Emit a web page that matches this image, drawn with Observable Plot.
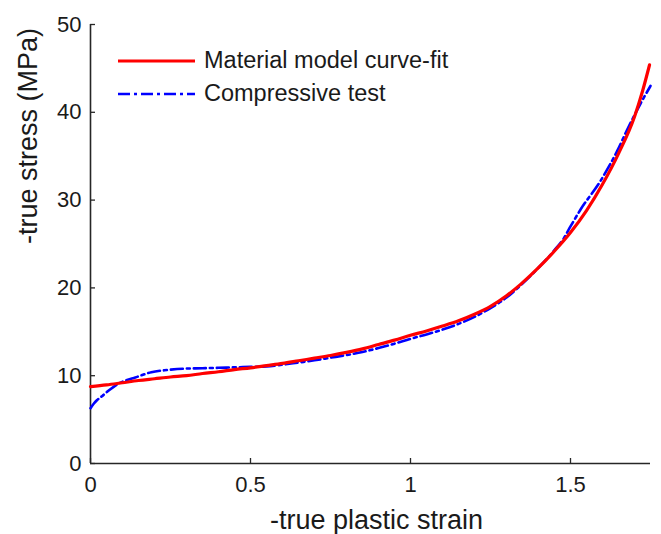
<!DOCTYPE html>
<html>
<head>
<meta charset="utf-8">
<script src="https://cdn.jsdelivr.net/npm/d3@7"></script>
<script src="https://cdn.jsdelivr.net/npm/@observablehq/plot@0.6"></script>
<style>
  html, body { margin: 0; padding: 0; background: #fff; }
  #wrap { position: relative; width: 661px; height: 534px; font-family: "Liberation Sans", Arial, sans-serif; }
  #legend { position: absolute; left: 118px; top: 44px; font-size: 23.5px; color: #1a1a1a; }
  .row { display: flex; align-items: center; height: 33px; }
  .row svg { margin-right: 9px; }
</style>
</head>
<body>
<div id="wrap"><div id="chart"></div><div id="legend"></div></div>
<script>
// Material model curve-fit (red)
const fitStrain = [0, 0.05, 0.1, 0.15, 0.2, 0.25, 0.3, 0.35, 0.4, 0.45, 0.5, 0.55, 0.6, 0.65, 0.7, 0.75, 0.8, 0.85, 0.9, 0.95, 1.0, 1.05, 1.1, 1.15, 1.2, 1.25, 1.3, 1.344, 1.4, 1.45, 1.5, 1.55, 1.6, 1.65, 1.7, 1.725, 1.747];
const fitStress = [8.75, 8.95, 9.2, 9.45, 9.65, 9.85, 10.0, 10.25, 10.45, 10.7, 10.9, 11.15, 11.4, 11.7, 12.0, 12.3, 12.65, 13.05, 13.55, 14.05, 14.6, 15.1, 15.65, 16.25, 17.0, 17.9, 19.1, 20.4, 22.3, 24.2, 26.3, 28.8, 31.8, 35.3, 39.5, 42.4, 45.4];
// Compressive test (blue)
const testStrain = [0, 0.01, 0.02, 0.037, 0.06, 0.0875, 0.11, 0.14, 0.19, 0.24, 0.29, 0.35, 0.4, 0.45, 0.5, 0.55, 0.6, 0.65, 0.7, 0.75, 0.8, 0.85, 0.9, 0.95, 1.0, 1.05, 1.1, 1.15, 1.2, 1.25, 1.3, 1.35, 1.4, 1.45, 1.48, 1.5, 1.531, 1.594, 1.646, 1.677, 1.719, 1.75];
const testStress = [6.3, 6.8, 7.2, 7.7, 8.4, 9.1, 9.45, 9.8, 10.4, 10.65, 10.8, 10.85, 10.9, 10.95, 11.0, 11.05, 11.25, 11.5, 11.75, 12.05, 12.35, 12.7, 13.15, 13.65, 14.2, 14.7, 15.25, 15.9, 16.7, 17.7, 18.9, 20.5, 22.3, 24.3, 25.7, 27.0, 28.9, 32.2, 35.6, 38.0, 41.0, 43.0];

const xTicks = [0, 0.5, 1, 1.5];
const xTickLabels = ["0", "0.5", "1", "1.5"];
const yTicks = [0, 10, 20, 30, 40, 50];
const seriesNames = ["Material model curve-fit", "Compressive test"];
const seriesColors = ["#ff0000", "#0000ff"];
const xLabel = "-true plastic strain";
const yLabel = "-true stress (MPa)";

const fit = fitStrain.map((x, i) => ({x, y: fitStress[i]}));
const test = testStrain.map((x, i) => ({x, y: testStress[i]}));

const axisColor = "#262626";
const chart = Plot.plot({
  width: 661,
  height: 534,
  marginLeft: 90,
  marginRight: 11,
  marginTop: 24,
  marginBottom: 71,
  style: {fontFamily: "'Liberation Sans', Arial, sans-serif", color: axisColor, background: "#fff"},
  x: {domain: [0, 1.75]},
  y: {domain: [0, 50]},
  marks: [
    Plot.axisX({ticks: xTicks, tickFormat: (d) => xTickLabels[xTicks.indexOf(d)], tickSize: -5, tickPadding: 18, fontSize: 22, label: null, stroke: axisColor, strokeWidth: 1.3, fill: "#1a1a1a"}),
    Plot.axisY({ticks: yTicks, tickSize: -5, tickPadding: 14, fontSize: 22, label: null, stroke: axisColor, strokeWidth: 1.3, fill: "#1a1a1a"}),
    Plot.ruleY([0], {stroke: axisColor, strokeWidth: 1.6}),
    Plot.ruleX([0], {stroke: axisColor, strokeWidth: 1.6}),
    Plot.line(test, {x: "x", y: "y", curve: "monotone-x", stroke: seriesColors[1], strokeWidth: 2.6, strokeDasharray: "12,4,3,4"}),
    Plot.line(fit, {x: "x", y: "y", curve: "monotone-x", stroke: seriesColors[0], strokeWidth: 3.2}),
    Plot.text([xLabel], {frameAnchor: "bottom", dx: 6, dy: 57, fontSize: 27, fill: "#1a1a1a", lineAnchor: "middle"}),
    Plot.text([yLabel], {frameAnchor: "left", dx: -62, rotate: -90, fontSize: 27, fill: "#1a1a1a", lineAnchor: "middle"})
  ]
});
document.getElementById("chart").appendChild(chart);

const legend = document.getElementById("legend");
seriesNames.forEach((name, i) => {
  const row = document.createElement("div");
  row.className = "row";
  const dash = i === 1 ? ' stroke-dasharray="12,4,3,4"' : "";
  const sw = i === 1 ? 2.6 : 3.2;
  row.innerHTML = `<svg width="77" height="10"><line x1="0" x2="77" y1="5" y2="5" stroke="${seriesColors[i]}" stroke-width="${sw}"${dash}/></svg><span>${name}</span>`;
  legend.appendChild(row);
});
</script>
</body>
</html>
